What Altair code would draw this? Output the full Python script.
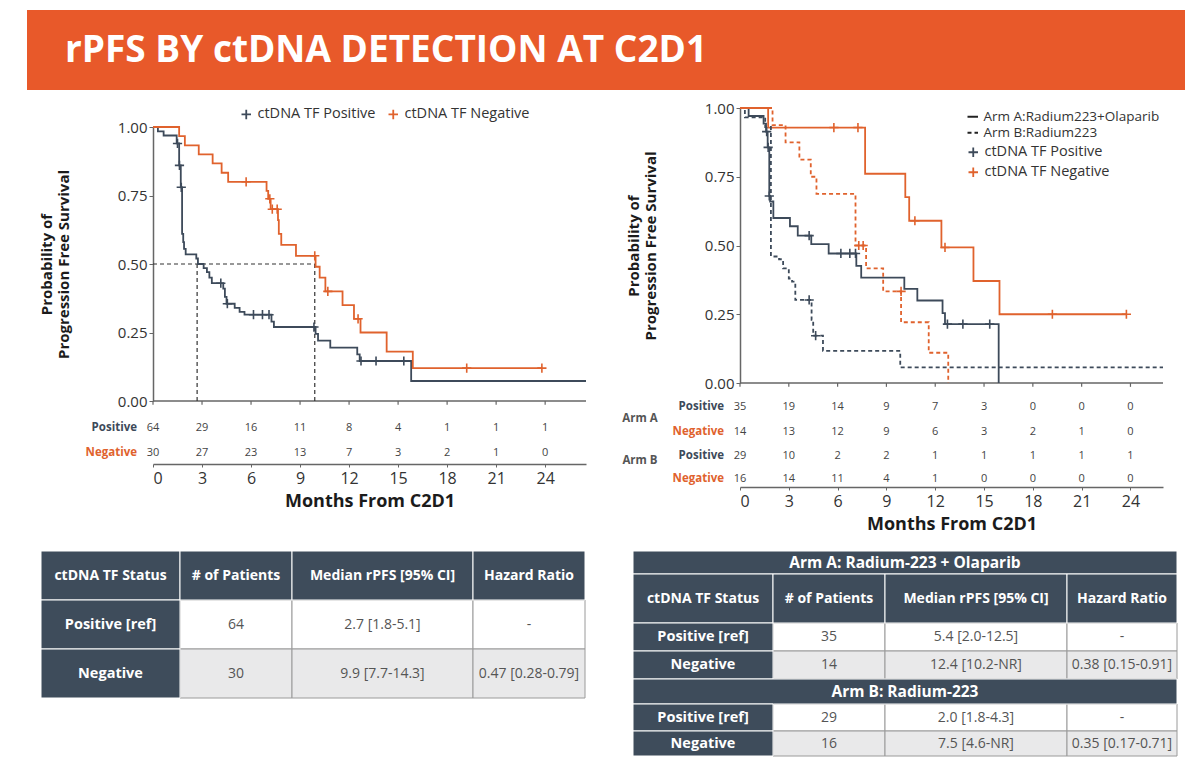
import altair as alt
import pandas as pd

FONT = "Open Sans"
DARK = "#3D4A5A"
ORANGE = "#E0622D"
BANNER = "#E8592A"
TBL_DARK = "#3E4C5B"
TXT = "#333333"
PLUS = "M-1,0L1,0M0,-1L0,1"

# ---------------- data ----------------
TITLE = "rPFS BY ctDNA DETECTION AT C2D1"
MONTHS = [0, 3, 6, 9, 12, 15, 18, 21, 24]
TF_GROUPS = ["ctDNA TF Positive", "ctDNA TF Negative"]
ARMS = ["Arm A:Radium223+Olaparib", "Arm B:Radium223"]
Y_TITLE = ["Probability of", "Progression Free Survival"]
X_TITLE = "Months From C2D1"

# Left panel: all patients
L_POS_T = [0, 0.3, 0.65, 1.45, 1.6, 1.7, 1.78, 1.85, 1.9, 2.0, 2.65, 2.75, 3.1, 3.3, 3.45, 3.6,
           4.3, 4.4, 4.5, 5.0, 5.3, 5.6, 7.25, 7.4, 9.95, 10.1, 10.85, 12.5, 12.65, 15.8, 26.5]
L_POS_S = [1.0, 0.984, 0.969, 0.94, 0.86, 0.78, 0.61, 0.58, 0.555, 0.535, 0.52, 0.50, 0.485, 0.47, 0.45, 0.43,
           0.41, 0.38, 0.355, 0.34, 0.325, 0.315, 0.29, 0.27, 0.245, 0.22, 0.195, 0.17, 0.146, 0.073, 0.073]
L_POS_CT = [1.5, 1.62, 1.73, 4.15, 4.55, 6.15, 6.7, 7.1, 9.85, 12.73, 13.65, 15.35]
L_POS_CS = [0.94, 0.86, 0.78, 0.43, 0.355, 0.315, 0.315, 0.315, 0.27, 0.146, 0.146, 0.146]

L_NEG_T = [0, 1.6, 1.95, 2.8, 3.65, 4.2, 4.6, 6.95, 7.05, 7.2, 7.65, 7.7, 7.85, 8.75, 9.95, 10.2,
           10.55, 11.6, 12.3, 12.7, 14.3, 15.9, 23.8]
L_NEG_S = [1.0, 0.967, 0.933, 0.90, 0.867, 0.833, 0.80, 0.767, 0.738, 0.70, 0.66, 0.61, 0.57, 0.53, 0.49, 0.45,
           0.40, 0.35, 0.30, 0.25, 0.18, 0.12, 0.12]
L_NEG_CT = [5.7, 7.15, 7.3, 7.6, 9.9, 10.7, 12.55, 19.2, 23.8]
L_NEG_CS = [0.80, 0.738, 0.70, 0.70, 0.53, 0.40, 0.30, 0.12, 0.12]

L_MEDIANS = [2.7, 9.9]
L_RISK_POS = [64, 29, 16, 11, 8, 4, 1, 1, 1]
L_RISK_NEG = [30, 27, 23, 13, 7, 3, 2, 1, 0]

# Right panel: by arm
RA_POS_T = [0, 0.53, 1.45, 1.6, 1.7, 1.8, 1.85, 2.05, 3.07, 3.55, 4.38, 5.45, 7.15, 7.45, 10.1, 10.9, 12.45, 12.6, 15.9]
RA_POS_S = [1.0, 0.971, 0.943, 0.914, 0.857, 0.68, 0.66, 0.60, 0.57, 0.536, 0.505, 0.471, 0.426, 0.383, 0.342, 0.30, 0.254, 0.214, 0.0]
RA_POS_CT = [1.64, 1.73, 1.8, 4.25, 6.2, 6.75, 7.1, 12.75, 13.7, 15.35]
RA_POS_CS = [0.914, 0.857, 0.68, 0.536, 0.471, 0.471, 0.471, 0.214, 0.214, 0.214]

RA_NEG_T = [0, 1.73, 7.69, 10.16, 10.4, 12.38, 14.35, 15.95, 23.75]
RA_NEG_S = [1.0, 0.929, 0.761, 0.676, 0.59, 0.493, 0.371, 0.25, 0.25]
RA_NEG_CT = [5.77, 7.25, 10.75, 12.6, 19.2, 23.75]
RA_NEG_CS = [0.929, 0.929, 0.59, 0.493, 0.25, 0.25]

RB_POS_T = [0, 0.3, 1.55, 1.9, 2.4, 2.65, 3.0, 3.2, 3.4, 4.4, 4.5, 5.1, 9.85, 26.0]
RB_POS_S = [1.0, 0.966, 0.931, 0.46, 0.45, 0.417, 0.38, 0.369, 0.302, 0.23, 0.172, 0.117, 0.057, 0.057]
RB_POS_CT = [4.25, 4.65]
RB_POS_CS = [0.302, 0.172]

RB_NEG_T = [0, 2.0, 2.8, 3.65, 4.35, 4.7, 7.1, 7.75, 8.8, 9.9, 11.6, 12.8]
RB_NEG_S = [1.0, 0.9375, 0.875, 0.8125, 0.75, 0.6875, 0.5, 0.417, 0.333, 0.221, 0.11, 0.0]
RB_NEG_CT = [7.3, 7.57, 9.9]
RB_NEG_CS = [0.5, 0.5, 0.333]

RA_RISK_POS = [35, 19, 14, 9, 7, 3, 0, 0, 0]
RA_RISK_NEG = [14, 13, 12, 9, 6, 3, 2, 1, 0]
RB_RISK_POS = [29, 10, 2, 2, 1, 1, 1, 1, 1]
RB_RISK_NEG = [16, 14, 11, 4, 1, 0, 0, 0, 0]

# Tables
TBL_HEADER = ["ctDNA TF Status", "# of Patients", "Median rPFS [95% CI]", "Hazard Ratio"]
L_TBL_ROWS = [["Positive [ref]", "64", "2.7 [1.8-5.1]", "-"],
              ["Negative", "30", "9.9 [7.7-14.3]", "0.47 [0.28-0.79]"]]
ARM_A_TITLE = "Arm A: Radium-223 + Olaparib"
ARM_A_ROWS = [["Positive [ref]", "35", "5.4 [2.0-12.5]", "-"],
              ["Negative", "14", "12.4 [10.2-NR]", "0.38 [0.15-0.91]"]]
ARM_B_TITLE = "Arm B: Radium-223"
ARM_B_ROWS = [["Positive [ref]", "29", "2.0 [1.8-4.3]", "-"],
              ["Negative", "16", "7.5 [4.6-NR]", "0.35 [0.17-0.71]"]]


# ---------------- helpers ----------------
def series_df(t, s, **labels):
    return pd.DataFrame({"t": t, "s": s, **{k: [v] * len(t) for k, v in labels.items()}})


def km_panel(lines_df, cens_df, color, dash, x_max, width, height, y_top, x_offset,
             risk_rows, arm_labels, extra_layers=None):
    X = alt.X("t:Q", scale=alt.Scale(domain=[0, x_max], nice=False, zero=False),
              axis=alt.Axis(values=MONTHS, offset=x_offset, title=X_TITLE, grid=False,
                            labelFontSize=16, labelColor=TXT, labelPadding=3, tickSize=3,
                            tickColor="#666", domainColor="#666", domainWidth=1.5,
                            titleFontSize=18, titleFontWeight="bold", titleColor="#1b1b1b",
                            titlePadding=6, labelFont=FONT, titleFont=FONT))
    Y = alt.Y("s:Q", scale=alt.Scale(domain=[0, 1], range=[height, y_top], nice=False, zero=False),
              axis=alt.Axis(values=[0, 0.25, 0.5, 0.75, 1.0], format=".2f", title=Y_TITLE, grid=False,
                            labelFontSize=15, labelColor=TXT, labelPadding=2, tickSize=4,
                            tickColor="#666", domainColor="#666", domainWidth=1.5,
                            titleFontSize=15, titleFontWeight="bold", titleColor="#1b1b1b",
                            titlePadding=46, labelFont=FONT, titleFont=FONT, titleLineHeight=17))
    layers = []
    base_df = pd.DataFrame({"t": [0], "t2": [x_max], "s": [0]})
    layers.append(alt.Chart(base_df).mark_rule(color="#666", strokeWidth=1.5)
                  .encode(x=X, x2="t2:Q", y=Y))
    tick_df = pd.DataFrame({"t": MONTHS, "s": [0] * len(MONTHS), "s2": [-0.014] * len(MONTHS)})
    layers.append(alt.Chart(tick_df).mark_rule(color="#666", strokeWidth=1.2)
                  .encode(x=X, y=Y, y2="s2:Q"))
    if extra_layers:
        layers += [f(X, Y) for f in extra_layers]
    enc = dict(x=X, y=Y, color=color)
    if dash is not None:
        enc["strokeDash"] = dash
    layers.append(alt.Chart(lines_df).mark_line(interpolate="step-after", strokeWidth=1.8).encode(**enc))
    layers.append(alt.Chart(cens_df).mark_point(shape=PLUS, filled=False, size=85, strokeWidth=1.6, opacity=1)
                  .encode(x=X, y=Y, color=color))
    for label, lcol, ypx, counts in risk_rows:
        rdf = pd.DataFrame({"t": MONTHS, "n": counts})
        layers.append(alt.Chart(rdf).mark_text(fontSize=11, color="#444", font=FONT)
                      .encode(x=X, y=alt.value(ypx), text="n:Q"))
        layers.append(alt.Chart(pd.DataFrame({"lab": [label]}))
                      .mark_text(fontSize=11.5, fontWeight="bold", color=lcol, align="right", font=FONT)
                      .encode(x=alt.value(-16), y=alt.value(ypx), text="lab:N"))
    for lab, xpx, ypx in arm_labels:
        layers.append(alt.Chart(pd.DataFrame({"lab": [lab]}))
                      .mark_text(fontSize=11.5, fontWeight="bold", color="#555", align="center", font=FONT)
                      .encode(x=alt.value(xpx), y=alt.value(ypx), text="lab:N"))
    return alt.layer(*layers).properties(width=width, height=height)


def table_chart(col_w, rows, x_off):
    W = sum(col_w)
    recs = []
    y = 0
    for kind, h, vals in rows:
        if kind == "title":
            recs.append(dict(x0=0, x1=W, y0=y, y1=y + h, fill=TBL_DARK, stroke="#ffffff", text=vals,
                             style="title", order=2))
        else:
            x = 0
            for j, (w, v) in enumerate(zip(col_w, vals)):
                if kind == "header" or j == 0:
                    fill, stroke = TBL_DARK, "#ffffff"
                    style = "head" if kind == "header" else "first"
                    order = 2
                else:
                    fill = "#ffffff" if kind == "white" else "#e9e9ea"
                    stroke, style, order = "#9a9a9a", "body", 1
                recs.append(dict(x0=x, x1=x + w, y0=y, y1=y + h, fill=fill, stroke=stroke, text=v,
                                 style=style, order=order))
                x += w
        y += h
    H = y
    df = pd.DataFrame(recs).sort_values("order", kind="stable")
    df["xc"] = (df.x0 + df.x1) / 2
    df["yc"] = (df.y0 + df.y1) / 2
    xs = alt.Scale(domain=[0, W], range=[x_off, x_off + W], nice=False, zero=False)
    ys = alt.Scale(domain=[0, H], range=[0, H], nice=False, zero=False)
    base = alt.Chart(df)
    rect = base.mark_rect(strokeWidth=1).encode(
        x=alt.X("x0:Q", scale=xs, axis=None), x2="x1:Q",
        y=alt.Y("y0:Q", scale=ys, axis=None), y2="y1:Q",
        fill=alt.Fill("fill:N", scale=None), stroke=alt.Stroke("stroke:N", scale=None))
    layers = [rect]
    styles = {"title": dict(fontSize=15.5, fontWeight="bold", color="#ffffff"),
              "head": dict(fontSize=14, fontWeight="bold", color="#ffffff"),
              "first": dict(fontSize=14.5, fontWeight="bold", color="#ffffff"),
              "body": dict(fontSize=14, fontWeight="normal", color="#555555")}
    for st, kw in styles.items():
        layers.append(base.transform_filter(alt.datum.style == st)
                      .mark_text(font=FONT, baseline="middle", **kw)
                      .encode(x=alt.X("xc:Q", scale=xs, axis=None), y=alt.Y("yc:Q", scale=ys, axis=None),
                              text="text:N"))
    return alt.layer(*layers).properties(width=x_off + W, height=H)


# ---------------- banner ----------------
banner_df = pd.DataFrame({"title": [TITLE]})
banner = alt.layer(
    alt.Chart(banner_df).mark_rect(color=BANNER).encode(
        x=alt.value(-126), x2=alt.value(1032), y=alt.value(0), y2=alt.value(80)),
    alt.Chart(banner_df).mark_text(align="left", baseline="middle", color="white", fontSize=37,
                                   fontWeight="bold", font=FONT).encode(
        x=alt.value(-88), y=alt.value(41), text="title:N"),
).properties(width=1032, height=80)

# ---------------- left KM ----------------
left_lines = pd.concat([series_df(L_POS_T, L_POS_S, g=TF_GROUPS[0]),
                        series_df(L_NEG_T, L_NEG_S, g=TF_GROUPS[1])])
left_cens = pd.concat([series_df(L_POS_CT, L_POS_CS, g=TF_GROUPS[0]),
                       series_df(L_NEG_CT, L_NEG_CS, g=TF_GROUPS[1])])
COLOR_L = alt.Color("g:N", scale=alt.Scale(domain=TF_GROUPS, range=[DARK, ORANGE]),
                    legend=alt.Legend(orient="none", legendX=86, legendY=-1, direction="horizontal",
                                      title=None, symbolType=PLUS, symbolSize=90, symbolStrokeWidth=1.8,
                                      labelFontSize=14.5, labelColor=TXT, labelFont=FONT, columnPadding=8,
                                      labelLimit=0))


def median_layer(X, Y):
    med = pd.DataFrame({"t": [0] + L_MEDIANS, "t2": [max(L_MEDIANS)] + L_MEDIANS,
                        "s": [0.5] + [0.0] * len(L_MEDIANS), "s2": [0.5] * (len(L_MEDIANS) + 1)})
    return alt.Chart(med).mark_rule(color="#333", strokeWidth=1.2, strokeDash=[4, 3]).encode(
        x=X, x2="t2:Q", y=Y, y2="s2:Q")


left_km = km_panel(left_lines, left_cens, COLOR_L, None, 26.5, 433, 293, 19, 63,
                   [("Positive", DARK, 320, L_RISK_POS), ("Negative", ORANGE, 345, L_RISK_NEG)],
                   [], [median_layer])

# ---------------- right KM ----------------
right_lines = pd.concat([series_df(RA_POS_T, RA_POS_S, tf=TF_GROUPS[0], arm=ARMS[0]),
                         series_df(RA_NEG_T, RA_NEG_S, tf=TF_GROUPS[1], arm=ARMS[0]),
                         series_df(RB_POS_T, RB_POS_S, tf=TF_GROUPS[0], arm=ARMS[1]),
                         series_df(RB_NEG_T, RB_NEG_S, tf=TF_GROUPS[1], arm=ARMS[1])])
right_cens = pd.concat([series_df(RA_POS_CT, RA_POS_CS, tf=TF_GROUPS[0]),
                        series_df(RA_NEG_CT, RA_NEG_CS, tf=TF_GROUPS[1]),
                        series_df(RB_POS_CT, RB_POS_CS, tf=TF_GROUPS[0]),
                        series_df(RB_NEG_CT, RB_NEG_CS, tf=TF_GROUPS[1])])
COLOR_R = alt.Color("tf:N", scale=alt.Scale(domain=TF_GROUPS, range=[DARK, ORANGE]),
                    legend=alt.Legend(orient="none", legendX=226, legendY=37, direction="vertical",
                                      title=None, symbolType=PLUS, symbolSize=90, symbolStrokeWidth=1.8,
                                      labelFontSize=14.5, labelColor=TXT, labelFont=FONT, rowPadding=2,
                                      labelLimit=0))
DASH_R = alt.StrokeDash("arm:N", scale=alt.Scale(domain=ARMS, range=[[1, 0], [4, 3]]),
                        legend=alt.Legend(orient="none", legendX=226, legendY=2, direction="vertical",
                                          title=None, symbolType="stroke", symbolStrokeColor="#222",
                                          symbolStrokeWidth=2, symbolSize=110, labelFontSize=13.5,
                                          labelColor=TXT, labelFont=FONT, rowPadding=1, labelLimit=0))
right_km = km_panel(right_lines, right_cens, COLOR_R, DASH_R, 26, 423, 275, 0, 104,
                    [("Positive", DARK, 299, RA_RISK_POS), ("Negative", ORANGE, 324, RA_RISK_NEG),
                     ("Positive", DARK, 348, RB_RISK_POS), ("Negative", ORANGE, 371, RB_RISK_NEG)],
                    [("Arm A", -100, 311), ("Arm B", -100, 353)])

# ---------------- tables ----------------
left_table = table_chart([139, 112, 181, 112],
                         [("header", 49, TBL_HEADER), ("white", 49, L_TBL_ROWS[0]),
                          ("gray", 49, L_TBL_ROWS[1])], -112)
right_table = table_chart([140, 112, 182, 110],
                          [("title", 23, ARM_A_TITLE), ("header", 49, TBL_HEADER),
                           ("white", 28, ARM_A_ROWS[0]), ("gray", 28, ARM_A_ROWS[1]),
                           ("title", 25, ARM_B_TITLE), ("white", 27, ARM_B_ROWS[0]),
                           ("gray", 25, ARM_B_ROWS[1])], 0)

mid = alt.hconcat(left_km, right_km, spacing=32).resolve_scale(
    x="independent", y="independent", color="independent", strokeDash="independent").resolve_legend(
    color="independent", strokeDash="independent")
tables = alt.hconcat(left_table, right_table, spacing=46).resolve_scale(x="independent", y="independent")
lower = alt.vconcat(mid, tables, spacing=17).resolve_scale(
    x="independent", y="independent", color="independent", strokeDash="independent").resolve_legend(
    color="independent", strokeDash="independent")
chart = alt.vconcat(banner, lower, spacing=11).resolve_scale(
    x="independent", y="independent", color="independent", strokeDash="independent").resolve_legend(
    color="independent", strokeDash="independent")

chart = chart.properties(
    padding={"left": 27, "top": 10, "right": 5, "bottom": 5},
    background="white",
).configure_view(stroke=None).configure_text(font=FONT).configure_legend(labelFont=FONT)

chart.save("out.html", embed_options={"renderer": "svg", "actions": False})
